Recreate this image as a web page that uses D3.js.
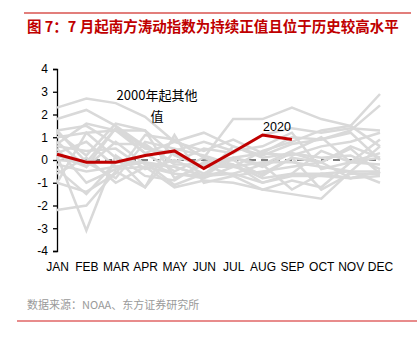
<!DOCTYPE html>
<html>
<head>
<meta charset="utf-8">
<script src="https://cdn.jsdelivr.net/npm/d3@7/dist/d3.min.js"></script>
<style>
  html, body { margin: 0; padding: 0; background: #fff; }
  svg { display: block; }
</style>
</head>
<body>
<svg id="chart" width="417" height="339"></svg>
<script>
// Southern Oscillation Index, monthly (standardized)
const months = ["JAN","FEB","MAR","APR","MAY","JUN","JUL","AUG","SEP","OCT","NOV","DEC"];
const yTicks = [-4,-3,-2,-1,0,1,2,3,4];

// 2000–2019 history, one row per year
const history2000 = [0.7,1.6,1.3,1.3,0.2,-0.3,-0.3,0.4,0.8,1.3,1.5,0.6];
const history2001 = [1.0,1.2,1.3,0.3,-0.5,0.1,-0.3,-0.6,0.1,-0.1,0.5,-0.6];
const history2002 = [0.3,0.8,-0.3,-0.1,-1.1,-0.6,-0.6,-1.0,-0.6,-0.6,-0.5,-1.0];
const history2003 = [-0.2,-0.5,-0.3,-0.1,-0.6,-0.8,-0.3,-0.1,-0.1,-0.3,-0.5,0.6];
const history2004 = [-1.0,1.2,0.1,-1.2,1.1,-1.0,-0.7,-0.5,-0.3,-0.1,-0.8,-0.7];
const history2005 = [0.2,-3.1,0.2,-0.7,-0.9,-0.1,0.1,-0.2,0.4,1.0,-0.1,0.1];
const history2006 = [1.2,0.2,1.6,1.3,-0.8,-0.2,-0.7,-1.3,-0.9,-1.2,-0.1,-0.2];
const history2007 = [-0.4,-1.5,-0.1,-0.1,-0.3,-0.7,0.1,0.3,0.2,0.6,0.8,1.2];
const history2008 = [1.8,2.2,1.5,0.6,-0.1,0.5,0.3,1.1,1.4,1.2,1.4,1.3];
const history2009 = [1.3,1.5,0.7,0.7,-0.2,-0.2,0.0,-0.7,0.1,-1.3,-0.6,-0.6];
const history2010 = [-1.0,-1.4,-0.6,1.1,0.9,0.1,1.8,1.8,2.3,1.8,1.5,2.9];
const history2011 = [2.3,2.7,2.5,1.9,0.8,0.4,0.9,0.3,1.0,0.9,1.3,2.4];
const history2012 = [0.6,0.4,0.5,-0.4,0.0,-0.6,0.1,-0.3,0.3,0.1,0.2,-0.4];
const history2013 = [0.0,-0.1,1.4,0.3,0.8,1.2,0.6,0.1,0.3,-0.1,0.6,0.1];
const history2014 = [1.3,-0.1,-0.8,0.8,0.5,0.2,-0.2,-1.0,-0.7,-0.7,-0.8,-0.5];
const history2015 = [-0.6,0.1,-1.0,-0.3,-1.2,-0.9,-1.0,-1.3,-1.5,-1.7,-0.5,-0.5];
const history2016 = [-2.2,-2.0,-0.5,-1.2,0.4,0.8,0.4,0.6,1.2,-0.4,-0.1,0.3];
const history2017 = [0.2,-0.3,0.8,-0.2,-0.3,-0.7,0.6,0.2,0.7,0.9,1.2,0.0];
const history2018 = [0.8,-0.3,1.4,0.5,0.3,-0.3,-0.2,-0.8,-0.6,0.4,-0.1,0.9];
const history2019 = [0.5,-1.0,-0.4,-0.3,-0.6,-0.7,-0.6,-0.2,-1.3,-0.6,-0.8,-0.5];

// 2020 so far (Jan–Sep)
const soi2020 = [0.25,-0.1,-0.1,0.2,0.4,-0.37,0.35,1.1,0.9];

const historySeries = [history2000,history2001,history2002,history2003,history2004,
  history2005,history2006,history2007,history2008,history2009,history2010,history2011,
  history2012,history2013,history2014,history2015,history2016,history2017,history2018,history2019];

const svg = d3.select("#chart");

const x = d3.scalePoint().domain(months).range([57, 380]);
const y = d3.scaleLinear().domain([-4, 4]).range([251, 69]);

const sans = "'Liberation Sans', Arial, sans-serif";
const cjk = "'Noto Sans CJK SC', 'Noto Sans', sans-serif";

// header rule and title
svg.append("line").attr("x1", 24).attr("x2", 411).attr("y1", 13).attr("y2", 13)
  .attr("stroke", "#d9534f").attr("stroke-width", 1.5);
svg.append("text").attr("x", 27).attr("y", 32)
  .attr("font-family", cjk).attr("font-size", 14.5).attr("font-weight", "bold")
  .attr("fill", "#c00000")
  .text("图 7：7 月起南方涛动指数为持续正值且位于历史较高水平");

// zero reference
svg.append("line")
  .attr("x1", x("JAN")).attr("x2", x("DEC"))
  .attr("y1", y(0)).attr("y2", y(0))
  .attr("stroke", "#000").attr("stroke-width", 1.2)
  .attr("stroke-dasharray", "7,5");

// y axis
const yAxis = d3.axisLeft(y).tickValues(yTicks).tickSize(4).tickPadding(5)
  .tickFormat(d => String(d));
const gy = svg.append("g").attr("transform", `translate(${x("JAN")},0)`).call(yAxis);
gy.select(".domain").attr("stroke", "#000").attr("stroke-width", 1.3);
gy.selectAll(".tick line").attr("stroke", "#000").attr("stroke-width", 1.3);
gy.selectAll(".tick text").attr("font-family", sans).attr("font-size", 12).attr("fill", "#000");

// x labels
const xAxis = d3.axisBottom(x).tickSize(0).tickPadding(0);
const gx = svg.append("g").attr("transform", `translate(0,262)`).call(xAxis);
gx.select(".domain").remove();
gx.selectAll(".tick text").attr("font-family", sans).attr("font-size", 12).attr("fill", "#000")
  .attr("dy", "0.71em");

const line = d3.line().x((d, i) => x(months[i])).y(d => y(d));

// history lines
svg.append("g").selectAll("path").data(historySeries).join("path")
  .attr("d", line).attr("fill", "none")
  .attr("stroke", "#d9d9d9").attr("stroke-width", 2.5).attr("stroke-linejoin", "miter");

// 2020 line
svg.append("path").datum(soi2020).attr("d", line).attr("fill", "none")
  .attr("stroke", "#c00000").attr("stroke-width", 3);

// annotations
svg.append("text").attr("x", 157).attr("y", 100).attr("text-anchor", "middle")
  .attr("font-family", cjk).attr("font-size", 13).attr("fill", "#000").text("2000年起其他");
svg.append("text").attr("x", 157).attr("y", 121).attr("text-anchor", "middle")
  .attr("font-family", cjk).attr("font-size", 13).attr("fill", "#000").text("值");
svg.append("text").attr("x", 277).attr("y", 131).attr("text-anchor", "middle")
  .attr("font-family", sans).attr("font-size", 12.5).attr("fill", "#000").text("2020");

// source and footer rule
svg.append("text").attr("x", 27).attr("y", 309)
  .attr("font-family", cjk).attr("font-size", 11).attr("fill", "#9a9a9a")
  .text("数据来源：NOAA、东方证券研究所");
svg.append("line").attr("x1", 17).attr("x2", 417).attr("y1", 321).attr("y2", 321)
  .attr("stroke", "#e06666").attr("stroke-width", 1.5);
</script>
</body>
</html>
